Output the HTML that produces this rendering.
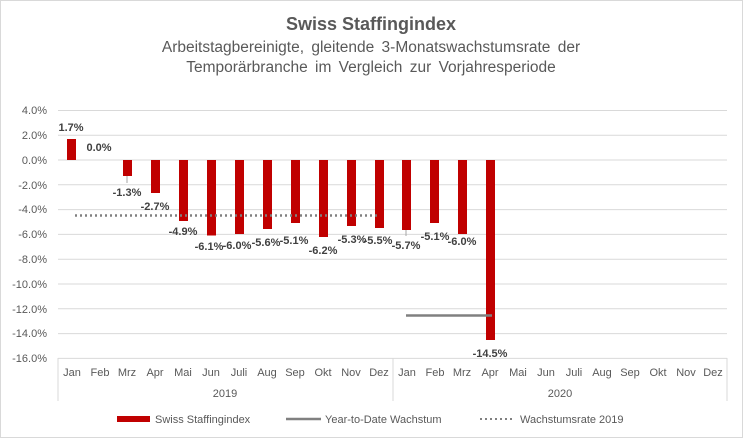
<!DOCTYPE html>
<html><head><meta charset="utf-8"><style>
html,body{margin:0;padding:0;background:#fff;}
svg{display:block;font-family:"Liberation Sans",Arial,sans-serif;}
</style></head><body>
<svg width="743" height="438" viewBox="0 0 743 438" xmlns="http://www.w3.org/2000/svg">
<rect x="0.5" y="0.5" width="742" height="437" fill="#fff" stroke="#d9d9d9"/>
<text x="371" y="30" text-anchor="middle" font-size="18" font-weight="bold" fill="#595959">Swiss Staffingindex</text>
<text x="371" y="52" text-anchor="middle" font-size="15.5" fill="#595959" word-spacing="3">Arbeitstagbereinigte, gleitende 3-Monatswachstumsrate der</text>
<text x="371" y="72" text-anchor="middle" font-size="15.5" fill="#595959" word-spacing="3">Temporärbranche im Vergleich zur Vorjahresperiode</text>
<g stroke="#d9d9d9" stroke-width="1">
<line x1="58" y1="110.5" x2="727" y2="110.5"/>
<line x1="58" y1="135.3" x2="727" y2="135.3"/>
<line x1="58" y1="160" x2="727" y2="160"/>
<line x1="58" y1="184.8" x2="727" y2="184.8"/>
<line x1="58" y1="209.6" x2="727" y2="209.6"/>
<line x1="58" y1="234.4" x2="727" y2="234.4"/>
<line x1="58" y1="259.2" x2="727" y2="259.2"/>
<line x1="58" y1="284" x2="727" y2="284"/>
<line x1="58" y1="308.8" x2="727" y2="308.8"/>
<line x1="58" y1="333.6" x2="727" y2="333.6"/>
<line x1="58" y1="358.4" x2="727" y2="358.4"/>
<line x1="58" y1="358" x2="58" y2="401"/>
<line x1="393" y1="358" x2="393" y2="401"/>
<line x1="727" y1="358" x2="727" y2="401"/>
</g>
<g font-size="11" fill="#595959" text-anchor="end">
<text x="47" y="114">4.0%</text><text x="47" y="139">2.0%</text><text x="47" y="164">0.0%</text>
<text x="47" y="189">-2.0%</text><text x="47" y="213">-4.0%</text><text x="47" y="238">-6.0%</text>
<text x="47" y="263">-8.0%</text><text x="47" y="288">-10.0%</text><text x="47" y="313">-12.0%</text>
<text x="47" y="337">-14.0%</text><text x="47" y="362">-16.0%</text>
</g>
<g fill="#c00000">
<rect x="67" y="139" width="9" height="21"/>
<rect x="123" y="160" width="9" height="16"/>
<rect x="151" y="160" width="9" height="33"/>
<rect x="179" y="160" width="9" height="61"/>
<rect x="207" y="160" width="9" height="75.5"/>
<rect x="235" y="160" width="9" height="74"/>
<rect x="263" y="160" width="9" height="69"/>
<rect x="291" y="160" width="9" height="63"/>
<rect x="319" y="160" width="9" height="77"/>
<rect x="347" y="160" width="9" height="66"/>
<rect x="375" y="160" width="9" height="68"/>
<rect x="402" y="160" width="9" height="70"/>
<rect x="430" y="160" width="9" height="63"/>
<rect x="458" y="160" width="9" height="74"/>
<rect x="486" y="160" width="9" height="180"/>
</g>
<line x1="127" y1="176" x2="127" y2="183" stroke="#a6a6a6"/>
<line x1="406" y1="230" x2="406" y2="236" stroke="#a6a6a6"/>
<line x1="75" y1="215.5" x2="379" y2="215.5" stroke="#808080" stroke-width="2.5" stroke-dasharray="2,3"/>
<line x1="406" y1="315.5" x2="492" y2="315.5" stroke="#808080" stroke-width="2.5"/>
<g font-size="11" font-weight="bold" fill="#404040" text-anchor="middle">
<text x="71" y="131">1.7%</text><text x="99" y="151">0.0%</text><text x="127" y="196">-1.3%</text>
<text x="155" y="210">-2.7%</text><text x="183" y="235">-4.9%</text><text x="209" y="250">-6.1%</text>
<text x="237" y="249">-6.0%</text><text x="266" y="246">-5.6%</text><text x="294" y="244">-5.1%</text>
<text x="323" y="254">-6.2%</text><text x="352" y="243">-5.3%</text><text x="378" y="244">-5.5%</text>
<text x="406" y="249">-5.7%</text><text x="435" y="240">-5.1%</text><text x="462" y="245">-6.0%</text>
<text x="490" y="357">-14.5%</text>
</g>
<g font-size="11" fill="#595959" text-anchor="middle">
<text x="72" y="376">Jan</text><text x="100" y="376">Feb</text><text x="127" y="376">Mrz</text><text x="155" y="376">Apr</text>
<text x="183" y="376">Mai</text><text x="211" y="376">Jun</text><text x="239" y="376">Juli</text><text x="267" y="376">Aug</text>
<text x="295" y="376">Sep</text><text x="323" y="376">Okt</text><text x="351" y="376">Nov</text><text x="379" y="376">Dez</text>
<text x="407" y="376">Jan</text><text x="435" y="376">Feb</text><text x="462" y="376">Mrz</text><text x="490" y="376">Apr</text>
<text x="518" y="376">Mai</text><text x="546" y="376">Jun</text><text x="574" y="376">Juli</text><text x="602" y="376">Aug</text>
<text x="630" y="376">Sep</text><text x="658" y="376">Okt</text><text x="686" y="376">Nov</text><text x="713" y="376">Dez</text>
<text x="225" y="397">2019</text><text x="560" y="397">2020</text>
</g>
<rect x="117" y="416" width="33" height="6" fill="#c00000"/>
<line x1="286" y1="419" x2="321" y2="419" stroke="#808080" stroke-width="2.5"/>
<line x1="480" y1="419" x2="513" y2="419" stroke="#808080" stroke-width="2" stroke-dasharray="2,3"/>
<g font-size="11" fill="#595959">
<text x="155" y="423">Swiss Staffingindex</text>
<text x="325" y="423">Year-to-Date Wachstum</text>
<text x="520" y="423">Wachstumsrate 2019</text>
</g>
</svg>
</body></html>
